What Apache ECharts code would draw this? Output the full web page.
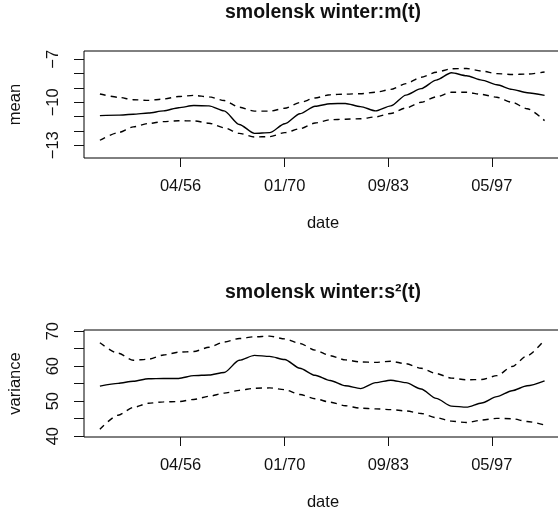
<!DOCTYPE html>
<html>
<head>
<meta charset="utf-8">
<script src="https://cdn.jsdelivr.net/npm/echarts@6/dist/echarts.min.js"></script>
<style>
  html, body { margin: 0; padding: 0; background: #fff; }
  #chart { width: 558px; height: 513px; }
</style>
</head>
<body>
<div id="chart"></div>
<script>
// decimal years of the smoothed estimates
const years = [1945.6, 1948, 1950, 1952, 1954, 1956, 1958, 1960, 1962, 1964, 1966, 1968, 1970, 1972, 1974,
  1976, 1978, 1980, 1982, 1984, 1986, 1988, 1990, 1992, 1994, 1996, 1998, 2000, 2002, 2004.3];

// m(t) with its band
const meanFit = [-10.93, -10.90, -10.84, -10.75, -10.60, -10.38, -10.23, -10.25, -10.60, -11.55, -12.17, -12.12, -11.50, -10.80, -10.28,
  -10.10, -10.08, -10.30, -10.60, -10.25, -9.50, -9.05, -8.45, -7.94, -8.15, -8.45, -8.78, -9.10, -9.33, -9.52];
const meanUpper = [-9.42, -9.65, -9.82, -9.87, -9.77, -9.60, -9.52, -9.62, -9.88, -10.35, -10.62, -10.62, -10.42, -10.02, -9.70,
  -9.47, -9.43, -9.40, -9.30, -9.10, -8.70, -8.25, -7.90, -7.66, -7.64, -7.82, -8.00, -8.06, -8.03, -7.89];
const meanLower = [-12.65, -12.12, -11.72, -11.48, -11.35, -11.29, -11.30, -11.46, -11.78, -12.17, -12.42, -12.40, -12.12, -11.85, -11.45,
  -11.22, -11.18, -11.15, -11.02, -10.78, -10.40, -10.00, -9.62, -9.30, -9.30, -9.45, -9.65, -10.00, -10.45, -11.28];

// s²(t) with its band
const varFit = [54.3, 55.1, 55.7, 56.4, 56.5, 56.5, 57.3, 57.5, 58.2, 61.7, 63.1, 62.8, 61.9, 59.4, 57.4,
  55.9, 54.4, 53.6, 55.3, 56.0, 55.3, 53.5, 50.8, 48.6, 48.3, 49.5, 51.3, 53.0, 54.4, 55.8];
const varUpper = [66.7, 63.7, 61.7, 62.0, 63.2, 64.0, 64.2, 65.4, 66.9, 67.9, 68.4, 68.6, 67.8, 66.5, 64.6,
  63.0, 61.8, 61.2, 61.1, 61.4, 60.7, 59.4, 57.9, 56.6, 56.1, 56.2, 57.3, 59.9, 63.0, 67.5];
const varLower = [42.0, 46.0, 48.2, 49.4, 49.8, 49.9, 50.5, 51.4, 52.3, 53.1, 53.7, 53.8, 53.3, 51.9, 50.7,
  49.7, 48.7, 48.0, 47.8, 47.6, 47.2, 46.5, 45.3, 44.3, 43.9, 44.6, 45.1, 45.0, 44.2, 43.2];

// axes
const dateTicks = [1956.25, 1970.0, 1983.67, 1997.33];
const dateLabels = ['04/56', '01/70', '09/83', '05/97'];
const meanTicks = [-13, -12, -11, -10, -9, -8, -7];
const meanLabels = [-13, -10, -7];
const varTicks = [40, 45, 50, 55, 60, 65, 70];
const varLabels = [40, 50, 60, 70];

const font = '"Liberation Sans", Arial, sans-serif';
const ink = '#111';

const pairs = ys => years.map((x, i) => [x, ys[i]]);

const xAxisFor = idx => ({
  type: 'value',
  gridIndex: idx,
  min: 1943.5,
  max: 2006.6,
  name: 'date',
  nameLocation: 'middle',
  nameGap: 65,
  nameTextStyle: {fontSize: 16.5, color: ink, fontFamily: font, align: 'center', verticalAlign: 'middle'},
  axisLine: {show: false},
  splitLine: {show: false},
  axisTick: {show: true, length: 9, customValues: dateTicks, lineStyle: {color: ink, width: 1}},
  axisLabel: {
    customValues: dateTicks,
    margin: 28,
    verticalAlign: 'middle',
    fontSize: 16.5, color: ink, fontFamily: font,
    formatter(val) {
      const i = dateTicks.findIndex(t => Math.abs(t - val) < 0.01);
      return i >= 0 ? dateLabels[i] : '';
    }
  }
});

const yAxisFor = (idx, name, min, max, ticks, labels) => ({
  type: 'value',
  gridIndex: idx,
  min, max,
  name,
  nameLocation: 'middle',
  nameRotate: 90,
  nameGap: 69,
  nameTextStyle: {fontSize: 16.5, color: ink, fontFamily: font, align: 'center', verticalAlign: 'middle'},
  axisLine: {show: false},
  splitLine: {show: false},
  axisTick: {show: true, length: 10, customValues: ticks, lineStyle: {color: ink, width: 1}},
  axisLabel: {
    customValues: labels,
    rotate: 90,
    margin: 31,
    align: 'center',
    verticalAlign: 'middle',
    fontSize: 16.5, color: ink, fontFamily: font,
    formatter: val => String(val).replace('-', '\u2212')
  }
});

const lineSeries = (idx, ys, dashed) => ({
  type: 'line',
  xAxisIndex: idx,
  yAxisIndex: idx,
  data: pairs(ys),
  showSymbol: false,
  smooth: 0.25,
  smoothMonotone: 'x',
  lineStyle: {color: '#000', width: 1.4, type: dashed ? [6, 5] : 'solid'},
  silent: true
});

const chart = echarts.init(document.getElementById('chart'));
chart.setOption({
  animation: false,
  backgroundColor: '#fff',
  grid: [
    {left: 84, top: 51, width: 478, height: 107, show: true, borderColor: '#000', borderWidth: 1, outerBoundsMode: 'none'},
    {left: 84, top: 330, width: 478, height: 107, show: true, borderColor: '#000', borderWidth: 1, outerBoundsMode: 'none'}
  ],
  graphic: [
    {type: 'text', x: 323, y: 13, style: {text: 'smolensk winter:m(t)', align: 'center', verticalAlign: 'middle',
      fontSize: 19.5, fontWeight: 'bold', fontFamily: font, fill: ink}},
    {type: 'text', x: 323, y: 293, style: {text: 'smolensk winter:s\u00b2(t)', align: 'center', verticalAlign: 'middle',
      fontSize: 19.5, fontWeight: 'bold', fontFamily: font, fill: ink}}
  ],
  xAxis: [xAxisFor(0), xAxisFor(1)],
  yAxis: [
    yAxisFor(0, 'mean', -13.89, -6.42, meanTicks, meanLabels),
    yAxisFor(1, 'variance', 39.77, 70.34, varTicks, varLabels)
  ],
  series: [
    lineSeries(0, meanFit, false),
    lineSeries(0, meanUpper, true),
    lineSeries(0, meanLower, true),
    lineSeries(1, varFit, false),
    lineSeries(1, varUpper, true),
    lineSeries(1, varLower, true)
  ]
});
</script>
</body>
</html>
